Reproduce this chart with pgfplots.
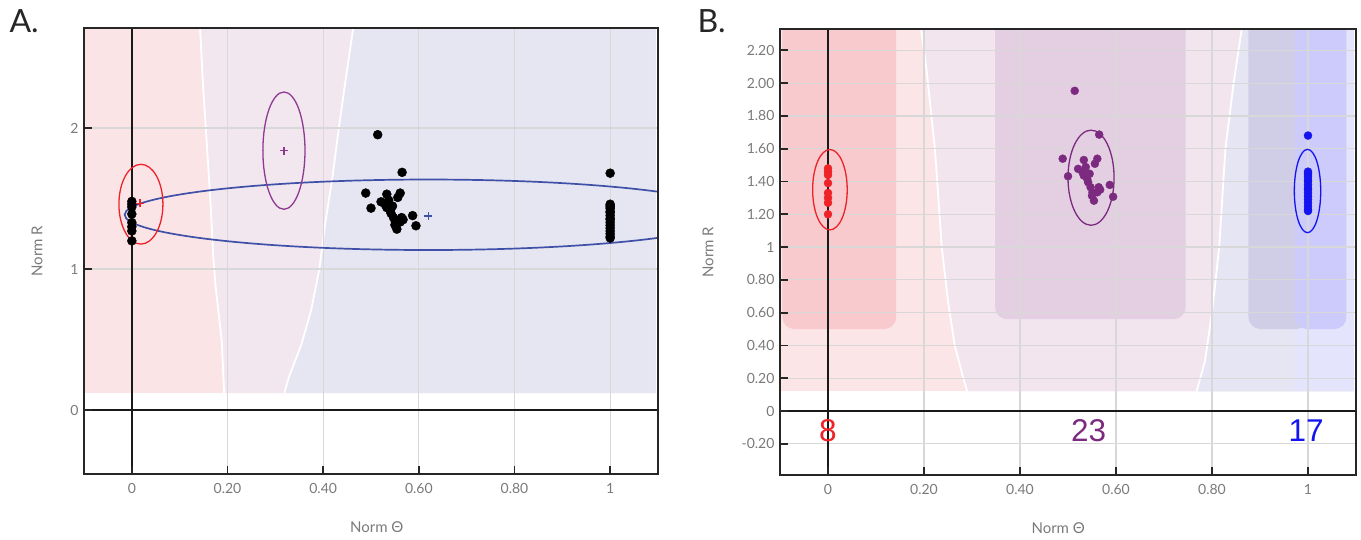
\documentclass[border=0pt]{standalone}
\usepackage{fontspec}
\setmainfont{Lato}
\newfontfamily\numfont{Liberation Sans}
\usepackage{pgfplots}
\usepackage{pgfplotstable}
\pgfplotsset{compat=1.18}

\definecolor{pinkA}{HTML}{FBE4E6}
\definecolor{midA}{HTML}{F2E6EF}
\definecolor{lavA}{HTML}{E6E5F2}
\definecolor{pinkB}{HTML}{FCE5E7}
\definecolor{midB}{HTML}{F2E5EE}
\definecolor{lavB}{HTML}{E6E5F3}
\definecolor{blueStripe}{HTML}{E4E4FC}
\definecolor{redBox}{HTML}{F8CACD}
\definecolor{purBox}{HTML}{E4CEE2}
\definecolor{bluBoxL}{HTML}{D0CEE7}
\definecolor{bluBoxR}{HTML}{CCCBFB}
\definecolor{gridgray}{HTML}{D8D8D8}
\definecolor{labelgray}{HTML}{7A7A7A}
\definecolor{redC}{HTML}{EE2227}
\definecolor{purC}{HTML}{7B2A80}
\definecolor{bluC}{HTML}{1414F0}
\definecolor{bluA}{HTML}{3F50A8}
\definecolor{purA}{HTML}{8E3A92}

\pgfplotstableread{
x y
0 1.48
0 1.46
0 1.44
0 1.39
0 1.33
0 1.30
0 1.27
0 1.20
}\redpts

\pgfplotstableread{
x y
0.514 1.953
0.565 1.686
0.489 1.539
0.533 1.531
0.561 1.539
0.556 1.508
0.521 1.477
0.537 1.488
0.500 1.432
0.533 1.436
0.540 1.416
0.542 1.395
0.547 1.365
0.564 1.365
0.587 1.379
0.551 1.334
0.561 1.334
0.594 1.307
0.554 1.283
0.545 1.447
0.530 1.457
0.550 1.313
0.567 1.350
}\purpts

\pgfplotstableread{
x y
1 1.68
1 1.46
1 1.45
1 1.44
1 1.43
1 1.41
1 1.40
1 1.38
1 1.36
1 1.35
1 1.33
1 1.31
1 1.29
1 1.27
1 1.25
1 1.23
1 1.22
}\blupts

\pgfplotsset{
  base/.style={
    scale only axis, anchor=south west, axis on top,
    xmin=-0.1, xmax=1.1,
    axis line style={line width=1.6pt, color=black!85},
    tick align=inside, tick pos=left,
    major tick length=8pt,
    every tick/.style={black!85, line width=1.8pt},
    xtick={0,0.2,0.4,0.6,0.8,1},
    xticklabels={0,0.20,0.40,0.60,0.80,1},
    /pgf/number format/assume math mode=true,
    tick label style={font=\fontsize{14}{16}\selectfont, text=labelgray},
    xticklabel style={yshift=-6pt},
    yticklabel style={xshift=-2pt},
    xlabel={Norm Θ}, ylabel={Norm R},
  },
  bg/.style={draw=none, forget plot},
  gl/.style={gridgray, line width=1.2pt, forget plot},
}

\begin{document}
\begin{tikzpicture}
\useasboundingbox (0,0) rectangle (1361pt,539pt);
\node[anchor=base west, font=\fontsize{32}{32}\selectfont, text=black!85] at (6pt,506pt) {A.};
\node[anchor=base west, font=\fontsize{32}{32}\selectfont, text=black!85] at (694pt,506pt) {B.};

% ---------------- Panel A ----------------
\begin{axis}[base,
  at={(84pt,65pt)}, width=574pt, height=446pt,
  ymin=-0.454, ymax=2.71,
  ytick={0,1,2}, yticklabels={0,1,2},
  every axis y label/.style={at={(rel axis cs:0,0.5)}, xshift=-47pt, rotate=90, anchor=center, font=\fontsize{15}{18}\selectfont, text=labelgray},
  every axis x label/.style={at={(rel axis cs:0.51,0)}, yshift=-53pt, anchor=center, font=\fontsize{15}{18}\selectfont, text=labelgray},
]
\addplot[bg, fill=pinkA] coordinates {(-0.1,0.12)(1.095,0.12)(1.095,3)(-0.1,3)};
\addplot[bg, fill=midA] coordinates {(0.193,0.12)(0.188,0.49)(0.175,0.88)(0.17,1.1)(0.165,1.44)(0.156,1.93)(0.149,2.29)(0.143,2.69)(0.141,3)(1.095,3)(1.095,0.12)};
\addplot[bg, fill=lavA] coordinates {(0.319,0.12)(0.328,0.23)(0.355,0.47)(0.375,0.71)(0.392,1.0)(0.405,1.34)(0.419,1.64)(0.432,1.98)(0.446,2.32)(0.462,2.69)(0.466,3)(1.095,3)(1.095,0.12)};
\addplot[bg, draw=white, line width=1.8pt] coordinates {(0.193,0.12)(0.188,0.49)(0.175,0.88)(0.17,1.1)(0.165,1.44)(0.156,1.93)(0.149,2.29)(0.143,2.69)(0.141,3)};
\addplot[bg, draw=white, line width=1.8pt] coordinates {(0.319,0.12)(0.328,0.23)(0.355,0.47)(0.375,0.71)(0.392,1.0)(0.405,1.34)(0.419,1.64)(0.432,1.98)(0.446,2.32)(0.462,2.69)(0.466,3)};

\addplot[gl] coordinates {(0.2,-1)(0.2,3)};
\addplot[gl] coordinates {(0.4,-1)(0.4,3)};
\addplot[gl] coordinates {(0.6,-1)(0.6,3)};
\addplot[gl] coordinates {(0.8,-1)(0.8,3)};
\addplot[gl] coordinates {(1,-1)(1,3)};
\addplot[gl] coordinates {(-0.2,1)(1.2,1)};
\addplot[gl] coordinates {(-0.2,2)(1.2,2)};

\addplot[black!90, line width=1.5pt, forget plot] coordinates {(0,-1)(0,3)};
\addplot[black!90, line width=1.5pt, forget plot] coordinates {(-0.2,0)(1.2,0)};

\draw[bluA, line width=1.7pt] (axis cs:0.62,1.385) ellipse [x radius=0.635, y radius=0.25];
\draw[redC, line width=1.3pt] (axis cs:0.019,1.46) ellipse [x radius=0.046, y radius=0.283];
\draw[purA, line width=1.3pt] (axis cs:0.318,1.84) ellipse [x radius=0.044, y radius=0.416];

\addplot[only marks, mark=*, mark size=4.5pt, black] table {\redpts};
\addplot[only marks, mark=*, mark size=4.5pt, black] table {\purpts};
\addplot[only marks, mark=*, mark size=4.5pt, black] table {\blupts};

\addplot[only marks, mark=+, mark size=4pt, redC, line width=1.4pt] coordinates {(0.017,1.466)};
\addplot[only marks, mark=+, mark size=4pt, purA, line width=1.4pt] coordinates {(0.318,1.84)};
\addplot[only marks, mark=+, mark size=4pt, bluA, line width=1.4pt] coordinates {(0.62,1.375)};
\end{axis}

% ---------------- Panel B ----------------
\begin{axis}[base,
  at={(780pt,64pt)}, width=576pt, height=446pt,
  ymin=-0.39, ymax=2.33,
  ytick={-0.2,0,0.2,0.4,0.6,0.8,1,1.2,1.4,1.6,1.8,2.0,2.2},
  yticklabels={-0.20,0,0.20,0.40,0.60,0.80,1,1.20,1.40,1.60,1.80,2.00,2.20},
  every axis y label/.style={at={(rel axis cs:0,0.5)}, xshift=-72pt, rotate=90, anchor=center, font=\fontsize{15}{18}\selectfont, text=labelgray},
  every axis x label/.style={at={(rel axis cs:0.483,0)}, yshift=-53pt, anchor=center, font=\fontsize{15}{18}\selectfont, text=labelgray},
]
\addplot[bg, fill=pinkB] coordinates {(-0.1,0.12)(1.095,0.12)(1.095,3)(-0.1,3)};
\addplot[bg, fill=midB] coordinates {(0.29,0.12)(0.282,0.2)(0.264,0.40)(0.25,0.67)(0.237,1.0)(0.223,1.59)(0.205,2.09)(0.194,2.33)(0.19,3)(1.095,3)(1.095,0.12)};
\addplot[bg, fill=lavB] coordinates {(0.768,0.12)(0.785,0.3)(0.80,0.6)(0.815,1.0)(0.828,1.6)(0.845,2.0)(0.862,2.33)(0.866,3)(1.095,3)(1.095,0.12)};
\addplot[bg, fill=blueStripe] coordinates {(0.973,0.12)(1.095,0.12)(1.095,3)(0.973,3)};
\addplot[bg, draw=white, line width=1.8pt] coordinates {(0.29,0.12)(0.282,0.2)(0.264,0.40)(0.25,0.67)(0.237,1.0)(0.223,1.59)(0.205,2.09)(0.194,2.33)(0.19,3)};
\addplot[bg, draw=white, line width=1.8pt] coordinates {(0.768,0.12)(0.785,0.3)(0.80,0.6)(0.815,1.0)(0.828,1.6)(0.845,2.0)(0.862,2.33)(0.866,3)};
\addplot[bg, fill=redBox, rounded corners=12pt] coordinates {(-0.095,3)(-0.095,0.50)(0.142,0.50)(0.142,3)};
\addplot[bg, fill=purBox, rounded corners=12pt] coordinates {(0.348,3)(0.348,0.56)(0.745,0.56)(0.745,3)};
\addplot[bg, fill=bluBoxL, rounded corners=12pt] coordinates {(0.876,3)(0.876,0.50)(1.0,0.50)(1.0,3)};
\addplot[bg, fill=bluBoxR, rounded corners=12pt] coordinates {(0.973,3)(0.973,0.50)(1.08,0.50)(1.08,3)};

\addplot[gl] coordinates {(0.2,-1)(0.2,3)};
\addplot[gl] coordinates {(0.4,-1)(0.4,3)};
\addplot[gl] coordinates {(0.6,-1)(0.6,3)};
\addplot[gl] coordinates {(0.8,-1)(0.8,3)};
\addplot[gl] coordinates {(1,-1)(1,3)};
\addplot[gl] coordinates {(-0.2,-0.2)(1.2,-0.2)};
\addplot[gl] coordinates {(-0.2,0.2)(1.2,0.2)};
\addplot[gl] coordinates {(-0.2,0.4)(1.2,0.4)};
\addplot[gl] coordinates {(-0.2,0.6)(1.2,0.6)};
\addplot[gl] coordinates {(-0.2,0.8)(1.2,0.8)};
\addplot[gl] coordinates {(-0.2,1.0)(1.2,1.0)};
\addplot[gl] coordinates {(-0.2,1.2)(1.2,1.2)};
\addplot[gl] coordinates {(-0.2,1.4)(1.2,1.4)};
\addplot[gl] coordinates {(-0.2,1.6)(1.2,1.6)};
\addplot[gl] coordinates {(-0.2,1.8)(1.2,1.8)};
\addplot[gl] coordinates {(-0.2,2.0)(1.2,2.0)};
\addplot[gl] coordinates {(-0.2,2.2)(1.2,2.2)};

\addplot[black!90, line width=1.5pt, forget plot] coordinates {(0,-1)(0,3)};
\addplot[black!90, line width=1.5pt, forget plot] coordinates {(-0.2,0)(1.2,0)};

\draw[redC, line width=1.3pt] (axis cs:0.004,1.35) ellipse [x radius=0.036, y radius=0.245];
\draw[purC, line width=1.3pt] (axis cs:0.548,1.423) ellipse [x radius=0.048, y radius=0.29];
\draw[bluC, line width=1.3pt] (axis cs:0.999,1.342) ellipse [x radius=0.0275, y radius=0.254];

\addplot[only marks, mark=*, mark size=4pt, redC] table {\redpts};
\addplot[only marks, mark=*, mark size=4pt, purC] table {\purpts};
\addplot[only marks, mark=*, mark size=4pt, bluC] table {\blupts};

\node[text=redC, font=\numfont\fontsize{31.5}{32}\selectfont] at (axis cs:0,-0.122) {8};
\node[text=purC, font=\numfont\fontsize{31.5}{32}\selectfont] at (axis cs:0.543,-0.122) {23};
\node[text=bluC, font=\numfont\fontsize{31.5}{32}\selectfont] at (axis cs:0.996,-0.122) {17};
\end{axis}
\end{tikzpicture}
\end{document}
